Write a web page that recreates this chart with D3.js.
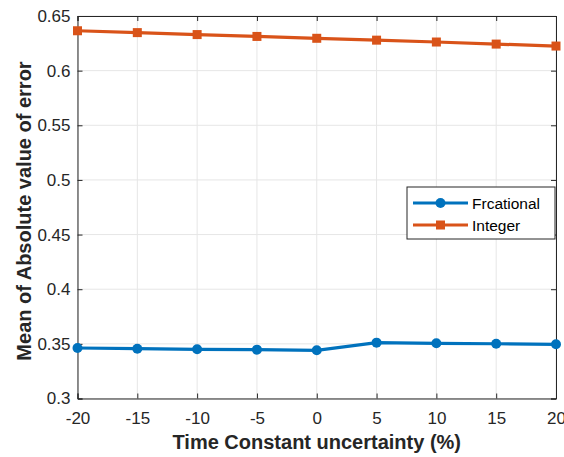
<!DOCTYPE html>
<html>
<head>
<meta charset="utf-8">
<script src="https://cdn.jsdelivr.net/npm/d3@7"></script>
<style>
  body { margin: 0; background: #fff; }
  text { font-family: "Liberation Sans", Arial, sans-serif; }
</style>
</head>
<body>
<div id="chart"></div>
<script>
// data
var uncertainty = [-20, -15, -10, -5, 0, 5, 10, 15, 20];
var fractional = [0.3462, 0.3456, 0.3450, 0.3447, 0.3441, 0.3511, 0.3505, 0.3501, 0.3496];
var integer = [0.6365, 0.6348, 0.6330, 0.6313, 0.6296, 0.6279, 0.6262, 0.6243, 0.6225];
var xTicks = [-20, -15, -10, -5, 0, 5, 10, 15, 20];
var yTicks = [0.3, 0.35, 0.4, 0.45, 0.5, 0.55, 0.6, 0.65];
var seriesNames = ["Frcational", "Integer"];

var width = 564, height = 457;
var margin = { top: 16, right: 8, bottom: 58.5, left: 77.5 };
var w = width - margin.left - margin.right,
    h = height - margin.top - margin.bottom;

var blue = "#0072BD", orange = "#D95319";

var svg = d3.select("#chart").append("svg")
    .attr("width", width)
    .attr("height", height);

var g = svg.append("g")
    .attr("transform", "translate(" + margin.left + "," + margin.top + ")");

var x = d3.scaleLinear().domain([-20, 20]).range([0, w]);
var y = d3.scaleLinear().domain([0.3, 0.65]).range([h, 0]);

// grid
g.append("g").selectAll("line").data(xTicks).enter().append("line")
    .attr("x1", function(d) { return x(d); })
    .attr("x2", function(d) { return x(d); })
    .attr("y1", 0).attr("y2", h)
    .attr("stroke", "#e6e6e6").attr("stroke-width", 1);
g.append("g").selectAll("line").data(yTicks).enter().append("line")
    .attr("y1", function(d) { return y(d); })
    .attr("y2", function(d) { return y(d); })
    .attr("x1", 0).attr("x2", w)
    .attr("stroke", "#e6e6e6").attr("stroke-width", 1);

// axes (plain hyphen for negatives, like matlab)
var xfmt = function(d) { return String(d); };
var yfmt = function(d) { return String(+d.toFixed(2)); };
var xAxis = g.append("g").attr("transform", "translate(0," + h + ")")
    .call(d3.axisBottom(x).tickValues(xTicks).tickSize(-5).tickPadding(13).tickFormat(xfmt));
var yAxis = g.append("g")
    .call(d3.axisLeft(y).tickValues(yTicks).tickSize(-5).tickPadding(7).tickFormat(yfmt));
var xTop = g.append("g")
    .call(d3.axisTop(x).tickValues(xTicks).tickSize(-5).tickFormat(""));
var yRight = g.append("g").attr("transform", "translate(" + w + ",0)")
    .call(d3.axisRight(y).tickValues(yTicks).tickSize(-5).tickFormat(""));

[xAxis, yAxis, xTop, yRight].forEach(function(a) {
    a.attr("font-size", null).attr("font-family", null);
    a.select(".domain").attr("stroke", "#262626").attr("stroke-width", 1);
    a.selectAll(".tick line").attr("stroke", "#262626");
    a.selectAll("text").attr("fill", "#262626").style("font-size", "17px");
});

// lines
var line = d3.line()
    .x(function(d, i) { return x(uncertainty[i]); })
    .y(function(d) { return y(d); });

g.append("path").datum(integer)
    .attr("fill", "none").attr("stroke", orange).attr("stroke-width", 3.2)
    .attr("d", line);
g.selectAll(".sq").data(integer).enter().append("rect")
    .attr("class", "sq")
    .attr("x", function(d, i) { return x(uncertainty[i]) - 4.5; })
    .attr("y", function(d) { return y(d) - 4.5; })
    .attr("width", 9).attr("height", 9)
    .attr("fill", orange);

g.append("path").datum(fractional)
    .attr("fill", "none").attr("stroke", blue).attr("stroke-width", 3.2)
    .attr("d", line);
g.selectAll(".dot").data(fractional).enter().append("circle")
    .attr("class", "dot")
    .attr("cx", function(d, i) { return x(uncertainty[i]); })
    .attr("cy", function(d) { return y(d); })
    .attr("r", 5)
    .attr("fill", blue);

// labels
svg.append("text")
    .attr("x", margin.left + w / 2).attr("y", 449)
    .attr("text-anchor", "middle")
    .style("font-size", "20px").style("font-weight", "bold")
    .attr("fill", "#262626")
    .text("Time Constant uncertainty (%)");
svg.append("text")
    .attr("transform", "translate(31,211) rotate(-90)")
    .attr("text-anchor", "middle")
    .style("font-size", "20px").style("font-weight", "bold")
    .attr("fill", "#262626")
    .text("Mean of Absolute value of error");

// legend
var lg = svg.append("g").attr("transform", "translate(407,187)");
lg.append("rect")
    .attr("width", 148).attr("height", 52)
    .attr("fill", "#fff").attr("stroke", "#262626").attr("stroke-width", 1);
var colors = [blue, orange];
seriesNames.forEach(function(name, i) {
    var yy = 16 + i * 22;
    lg.append("line").attr("x1", 6).attr("x2", 61).attr("y1", yy).attr("y2", yy)
        .attr("stroke", colors[i]).attr("stroke-width", 3.2);
    if (i == 0)
        lg.append("circle").attr("cx", 33.5).attr("cy", yy).attr("r", 5).attr("fill", colors[i]);
    else
        lg.append("rect").attr("x", 29).attr("y", yy - 4.5).attr("width", 9).attr("height", 9).attr("fill", colors[i]);
    lg.append("text").attr("x", 65).attr("y", yy + 5.5)
        .style("font-size", "15.5px").attr("fill", "#000")
        .text(name);
});
</script>
</body>
</html>
